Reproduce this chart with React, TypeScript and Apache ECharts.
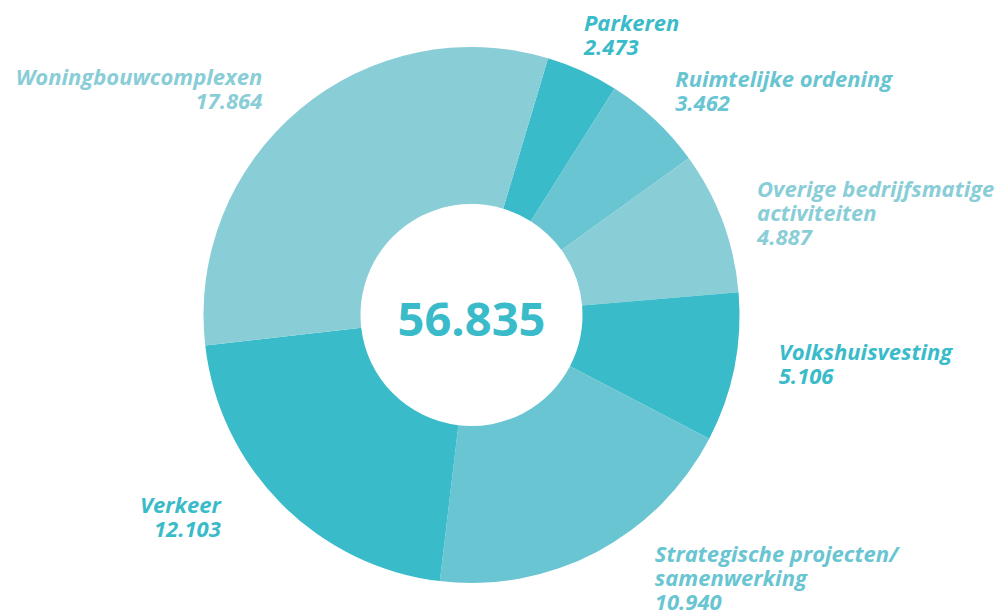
import React, { useEffect, useRef } from "react";
import * as echarts from "echarts";

const categories = [
  "Parkeren",
  "Ruimtelijke ordening",
  "Overige bedrijfsmatige\nactiviteiten",
  "Volkshuisvesting",
  "Strategische projecten/\nsamenwerking",
  "Verkeer",
  "Woningbouwcomplexen",
];
const values = [2473, 3462, 4887, 5106, 10940, 12103, 17864];
const colors = ["#3abbc9", "#69c5d2", "#89cdd7", "#3abbc9", "#69c5d2", "#3abbc9", "#89cdd7"];

// label nudges (layout only)
const labelDx = [-15, -4, 3, 12, 40, -36, -14];
const labelDy = [-12, -9, 0, -10, 0, -8, 0];

function fmt(v: number): string {
  const s = String(Math.round(v));
  return s.replace(/\B(?=(\d{3})+(?!\d))/g, ".");
}

export default function App() {
  const ref = useRef<HTMLDivElement>(null);
  useEffect(() => {
    document.body.style.margin = "0";
    const chart = echarts.init(ref.current!, null, { renderer: "svg" });
    const total = values.reduce((a, b) => a + b, 0);
    chart.setOption({
      animation: false,
      backgroundColor: "#ffffff",
      graphic: [
        {
          type: "text",
          x: 471.5,
          y: 318,
          style: {
            text: fmt(total),
            fill: "#3abbc9",
            font: "bold 47px 'Open Sans', sans-serif",
            textAlign: "center",
            textVerticalAlign: "middle",
          },
        },
      ],
      series: [
        {
          type: "pie",
          center: [471.5, 315],
          radius: [111, 268],
          startAngle: 73.4,
          clockwise: true,
          avoidLabelOverlap: false,
          label: {
            show: true,
            position: "outside",
            overflow: "none",
            color: "inherit",
            fontFamily: "'Open Sans', sans-serif",
            fontStyle: "italic",
            fontWeight: "bold",
            fontSize: 22,
            lineHeight: 24,
            formatter: (p: any) => `${p.name}\n${fmt(p.value)}`,
          },
          labelLine: { show: false, length: 28, length2: 0 },
          labelLayout: (p: any) => ({
            dx: labelDx[p.dataIndex],
            dy: labelDy[p.dataIndex],
          }),
          emphasis: { disabled: true },
          data: categories.map((c, i) => ({
            name: c,
            value: values[i],
            itemStyle: { color: colors[i] },
            label: { color: colors[i] },
          })),
        },
      ],
    });
    return () => chart.dispose();
  }, []);
  return (
    <div
      ref={ref}
      style={{ position: "absolute", left: 0, top: 0, width: 1000, height: 612 }}
    />
  );
}
